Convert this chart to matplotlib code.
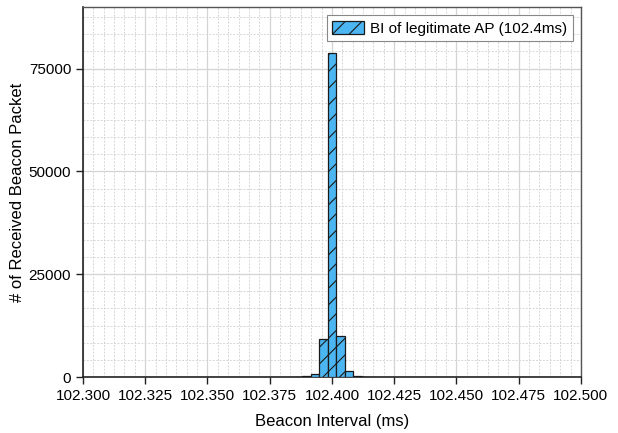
import matplotlib
matplotlib.use('Agg')
import matplotlib.pyplot as plt
from matplotlib.ticker import MultipleLocator, AutoMinorLocator

# Datos
BIN_CENTERS = [102.3864, 102.3898, 102.3932, 102.3966, 102.4000, 102.4034, 102.4068, 102.4102, 102.4136]
COUNTS = [80, 200, 730, 9200, 78800, 9950, 1530, 250, 80]
BIN_WIDTH = 0.0034
LEGEND_LABEL = 'BI of legitimate AP (102.4ms)'

FACE = '#4bb6f2'
EDGE = '#1a1a1a'
FRAME = '#555555'

plt.rcParams['font.family'] = ['Liberation Sans', 'DejaVu Sans']
plt.rcParams['hatch.linewidth'] = 0.8
plt.rcParams['hatch.color'] = EDGE

fig = plt.figure(figsize=(6.18, 4.33), dpi=100)
ax = fig.add_axes([0.1343, 0.1293, 0.8057, 0.8547])

ax.bar(BIN_CENTERS, COUNTS, width=BIN_WIDTH, color=FACE, edgecolor=EDGE,
       linewidth=0.9, hatch='//', label=LEGEND_LABEL, zorder=3)

ax.set_xlim(102.300, 102.500)
ax.set_ylim(0, 90000)
ax.xaxis.set_major_locator(MultipleLocator(0.025))
ax.xaxis.set_minor_locator(AutoMinorLocator(6))
ax.yaxis.set_major_locator(MultipleLocator(25000))
ax.yaxis.set_minor_locator(AutoMinorLocator(6))
ax.xaxis.set_major_formatter(plt.FormatStrFormatter('%.3f'))

# Rejilla
ax.grid(which='major', color='#d4d4d4', linewidth=0.9, linestyle='-', zorder=0)
ax.grid(which='minor', color='#d6d6d6', linewidth=0.7, linestyle=(0, (2, 1.5)), zorder=0)
ax.set_axisbelow(True)

for side in ['left', 'bottom']:
    ax.spines[side].set_color('#222222')
    ax.spines[side].set_linewidth(1.2)
for side in ['top', 'right']:
    ax.spines[side].set_color(FRAME)
    ax.spines[side].set_linewidth(1.0)

ax.tick_params(which='major', direction='out', length=5, width=1, labelsize=11,
               color='#222222', top=False, right=False)
ax.tick_params(which='minor', length=0)

ax.set_xlabel('Beacon Interval (ms)', fontsize=12, labelpad=8)
ax.set_ylabel('# of Received Beacon Packet', fontsize=12, labelpad=3)

leg = ax.legend(loc='upper right', fontsize=11, frameon=True, fancybox=False,
                edgecolor='#888888', framealpha=1, handlelength=2.1,
                handleheight=1.0, borderpad=0.35, borderaxespad=0.55,
                handletextpad=0.4)
leg.get_frame().set_linewidth(0.8)

plt.savefig('out.png', dpi=100)
plt.close()
